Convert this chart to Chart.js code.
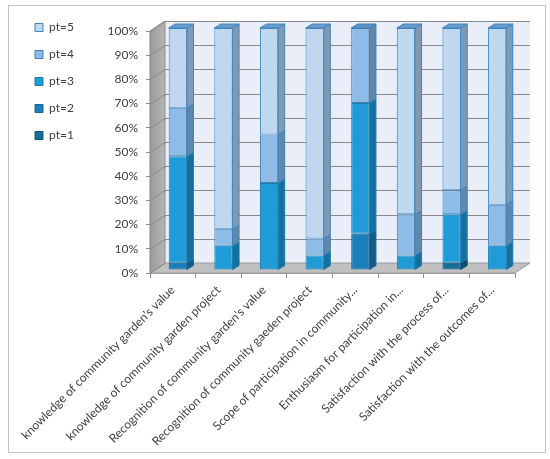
<!DOCTYPE html>
<html>
<head>
<meta charset="utf-8">
<script src="https://cdn.jsdelivr.net/npm/chart.js@4.4.1/dist/chart.umd.min.js"></script>
<style>
  html, body { margin: 0; padding: 0; background: #fff; }
  #caja { width: 550px; height: 459px; position: relative; }
</style>
</head>
<body>
<div id="caja"><canvas id="grafica"></canvas></div>
<script>

// 📋 DATOS (porcentajes por pregunta)
const categorias = [
  "knowledge of community garden's value",
  "knowledge of community garden project",
  "Recognition of community garden's value",
  "Recognition of community gaeden project",
  "Scope of participation in community...",
  "Enthusiasm for participation in...",
  "Satisfaction with the process of...",
  "Satisfaction with the outcomes of..."
];

const etiquetas = ["pt=1", "pt=2", "pt=3", "pt=4", "pt=5"];

const pt1 = [0, 0, 0, 0, 0, 0, 3, 0];
const pt2 = [3, 0, 0, 0, 15, 0, 0, 0];
const pt3 = [44, 10, 36, 6, 54, 6, 20, 10];
const pt4 = [20, 7, 20, 7, 31, 17, 10, 17];
const pt5 = [33, 83, 44, 87, 0, 77, 67, 73];

const ticksY = [0, 10, 20, 30, 40, 50, 60, 70, 80, 90, 100];


// 🎨 COLORES
const frente = ['#156b99', '#1b80ba', '#1f9cd8', '#8ebce6', '#bfd8f0'];
const lado   = ['#0d4c6e', '#115d8a', '#13709f', '#5f88ad', '#8299b3'];
const arriba = ['#2a7aa8', '#2b8cc4', '#3aa6dc', '#5c93c4', '#6a9ccb'];
const borde  = ['#0f5a82', '#16679a', '#1a7db0', '#3f7fb5', '#3f86c0'];

// profundidad de paredes y barras
const pared = { dx: 15, dy: 10 };
const barra = { dx: 6.5, dy: 4, sx: 5, sy: 3 };


// 🧱 PAREDES 3D
function poligono(ctx, pts, relleno, linea) {
  ctx.beginPath();
  ctx.moveTo(pts[0][0], pts[0][1]);
  pts.slice(1).forEach(p => ctx.lineTo(p[0], p[1]));
  ctx.closePath();
  if (relleno) { ctx.fillStyle = relleno; ctx.fill(); }
  if (linea) { ctx.strokeStyle = linea; ctx.lineWidth = 1; ctx.stroke(); }
}

const efecto3D = {
  id: 'efecto3D',

  beforeDraw(chart) {
    const { ctx, chartArea: a, scales } = chart;
    const y = scales.y;
    const dx = pared.dx, dy = pared.dy;

    ctx.save();
    ctx.fillStyle = '#ffffff';
    ctx.fillRect(0, 0, chart.width, chart.height);
    ctx.strokeStyle = '#c4c4c4';
    ctx.lineWidth = 1;
    ctx.strokeRect(8.5, 5.5, 537, 447);

    // pared del fondo
    ctx.fillStyle = '#eaeef9';
    ctx.fillRect(a.left + dx, a.top - dy, a.right - a.left, a.bottom - a.top);

    // pared izquierda
    const grad = ctx.createLinearGradient(a.left, 0, a.left + dx, 0);
    grad.addColorStop(0, '#9c9c9c');
    grad.addColorStop(1, '#b4b4b4');
    poligono(ctx, [[a.left, a.top], [a.left + dx, a.top - dy], [a.left + dx, a.bottom - dy], [a.left, a.bottom]], grad, '#8c8c8c');

    // piso
    poligono(ctx, [[a.left, a.bottom], [a.left + dx, a.bottom - dy], [a.right + dx, a.bottom - dy], [a.right, a.bottom]], '#c0c0c0', '#9a9a9a');

    // lineas de la grilla
    ctx.strokeStyle = '#8a8a8a';
    ctx.lineWidth = 1;
    ticksY.forEach(v => {
      const py = Math.round(y.getPixelForValue(v)) + 0.5;
      ctx.beginPath();
      ctx.moveTo(a.left, py);
      ctx.lineTo(a.left + dx, py - dy);
      if (v > 0) ctx.lineTo(a.right + dx, py - dy);
      ctx.stroke();
    });
    ctx.restore();
  },

  beforeDatasetsDraw(chart) {
    chart.ctx.save();
    chart.ctx.translate(barra.sx, -barra.sy);
  },

  afterDatasetsDraw(chart) {
    const ctx = chart.ctx;
    const n = chart.data.datasets.length;

    categorias.forEach((c, j) => {
      let ultimo = -1;
      for (let i = 0; i < n; i++) {
        const bar = chart.getDatasetMeta(i).data[j];
        if (!chart.data.datasets[i].data[j]) continue;
        const p = bar.getProps(['x', 'y', 'base', 'width'], true);
        const tope = Math.min(p.y, p.base);
        const fondo = Math.max(p.y, p.base);
        const xr = p.x + p.width / 2;
        poligono(ctx, [[xr, tope], [xr + barra.dx, tope - barra.dy], [xr + barra.dx, fondo - barra.dy], [xr, fondo]], lado[i], borde[i]);
        ultimo = i;
      }
      if (ultimo >= 0) {
        const p = chart.getDatasetMeta(ultimo).data[j].getProps(['x', 'y', 'base', 'width'], true);
        const tope = Math.min(p.y, p.base);
        const xl = p.x - p.width / 2, xr = p.x + p.width / 2;
        poligono(ctx, [[xl, tope], [xl + barra.dx, tope - barra.dy], [xr + barra.dx, tope - barra.dy], [xr, tope]], arriba[ultimo], borde[ultimo]);
      }
    });

    ctx.restore();
  }
};


// 📊 GRAFICA
const series = [pt1, pt2, pt3, pt4, pt5];
const fuente = { family: 'Lato', size: 12 };

const ctx = document.getElementById('grafica').getContext('2d');

new Chart(ctx, {
  type: 'bar',
  data: {
    labels: categorias,
    datasets: series.map((s, i) => ({
      label: etiquetas[i],
      data: s,
      backgroundColor: frente[i],
      borderColor: borde[i],
      borderWidth: 1,
      borderSkipped: false,
      barPercentage: 0.4,
      categoryPercentage: 1
    }))
  },
  plugins: [efecto3D],
  options: {
    responsive: true,
    maintainAspectRatio: false,
    animation: false,
    layout: {
      padding: { left: 20, top: 6.5, right: 35, bottom: 8 }
    },
    plugins: {
      title: {
        display: true,
        text: '',
        fullSize: false,
        padding: { top: 10.1, bottom: 0 }
      },
      legend: {
        position: 'left',
        align: 'start',
        reverse: true,
        labels: {
          boxWidth: 8,
          boxHeight: 8,
          padding: 15,
          color: '#404040',
          font: fuente
        }
      },
      tooltip: { enabled: false }
    },
    scales: {
      x: {
        stacked: true,
        afterFit: s => { s.height = 459 - 8 - 273; },
        grid: {
          offset: true,
          drawOnChartArea: false,
          tickLength: 5,
          color: '#8c8c8c'
        },
        border: { color: '#9a9a9a' },
        ticks: {
          minRotation: 45,
          maxRotation: 45,
          autoSkip: false,
          padding: 5,
          color: '#404040',
          font: fuente
        }
      },
      y: {
        stacked: true,
        min: 0,
        max: 100,
        afterFit: s => { s.width = 150 - 20 - s.chart.legend.width; },
        grid: {
          drawOnChartArea: false,
          tickLength: 4,
          color: '#8c8c8c'
        },
        border: { color: '#8c8c8c' },
        afterBuildTicks: s => { s.ticks = ticksY.map(v => ({ value: v })); },
        ticks: {
          padding: 8,
          color: '#404040',
          font: fuente,
          callback: v => v + '%'
        }
      }
    }
  }
});

</script>
</body>
</html>
